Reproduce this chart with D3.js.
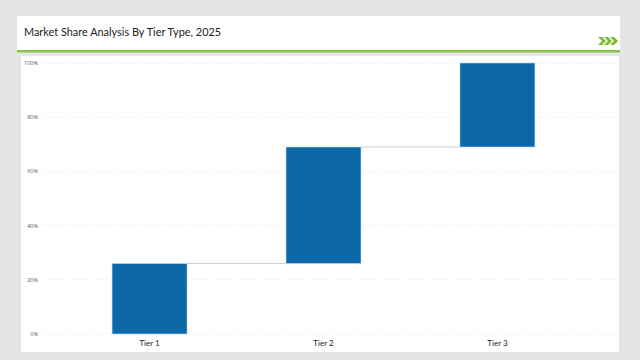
<!DOCTYPE html>
<html><head><meta charset="utf-8">
<script src="https://cdn.jsdelivr.net/npm/d3@7"></script>
<style>body{margin:0;background:#e5e5e5;}svg{display:block;}</style>
</head><body>
<svg id="c" width="640" height="360"></svg>
<script>
const categories = ["Tier 1", "Tier 2", "Tier 3"];
const values = [26, 43, 31];
const yTicks = [0, 20, 40, 60, 80, 100];
const title = "Market Share Analysis By Tier Type, 2025";

const svg = d3.select("#c");
svg.append("rect").attr("x",0).attr("y",0).attr("width",640).attr("height",360).attr("fill","#e5e5e5");
// header panel
svg.append("rect").attr("x",17).attr("y",16).attr("width",603).attr("height",35).attr("fill","#fff");
svg.append("rect").attr("x",17).attr("y",50).attr("width",603).attr("height",2.5).attr("fill","#8cc24a");
svg.append("text").attr("x",24).attr("y",36).attr("font-family","Lato, sans-serif").attr("font-weight",400).attr("font-size",10.9).attr("fill","#222").text(title);
// chevrons
[0,6,12].forEach(dx=>{
  svg.append("path").attr("d",`M${598+dx},37 L${602+dx},37 L${606+dx},41 L${602+dx},45 L${598+dx},45 L${602+dx},41 Z`).attr("fill","#7dbb2e");
});
// chart panel
svg.append("rect").attr("x",21).attr("y",56).attr("width",598).attr("height",296).attr("fill","#fff");

const y = d3.scaleLinear().domain([0,100]).range([334,63]);
const x = d3.scaleBand().domain(categories).range([62.5,584.5]).paddingInner(0.569).paddingOuter(0.285);

// grid
svg.append("g").selectAll("line").data(yTicks).join("line")
  .attr("x1",42).attr("x2",616).attr("y1",d=>y(d)).attr("y2",d=>y(d))
  .attr("stroke","#dcdcdc").attr("stroke-width",0.8).attr("stroke-dasharray","1,2");
svg.append("g").selectAll("text").data(yTicks).join("text")
  .attr("x",38).attr("y",d=>y(d)+2).attr("text-anchor","end")
  .attr("font-family","Open Sans, sans-serif").attr("font-size",5.5).attr("fill","#555")
  .text(d=>d+"%");

let cum = [];
values.reduce((a,v,i)=>{cum.push([a,a+v]);return a+v;},0);

// connectors
svg.append("g").selectAll("line").data(cum.slice(0,-1)).join("line")
  .attr("x1",(d,i)=>x(categories[i])+x.bandwidth())
  .attr("x2",(d,i)=>x(categories[i+1]))
  .attr("y1",d=>y(d[1])).attr("y2",d=>y(d[1]))
  .attr("stroke","#cfcfcf").attr("stroke-width",1);

svg.append("g").selectAll("rect").data(cum).join("rect")
  .attr("x",(d,i)=>x(categories[i]))
  .attr("width",x.bandwidth())
  .attr("y",d=>y(d[1]))
  .attr("height",d=>y(d[0])-y(d[1]))
  .attr("fill","#0d68a8").attr("stroke","#bcd9f0").attr("stroke-width",0.6);

svg.append("g").selectAll("text").data(categories).join("text")
  .attr("x",d=>x(d)+x.bandwidth()/2).attr("y",346).attr("text-anchor","middle")
  .attr("font-family","Lato, sans-serif").attr("font-size",8).attr("fill","#222")
  .text(d=>d);
</script>
</body></html>
